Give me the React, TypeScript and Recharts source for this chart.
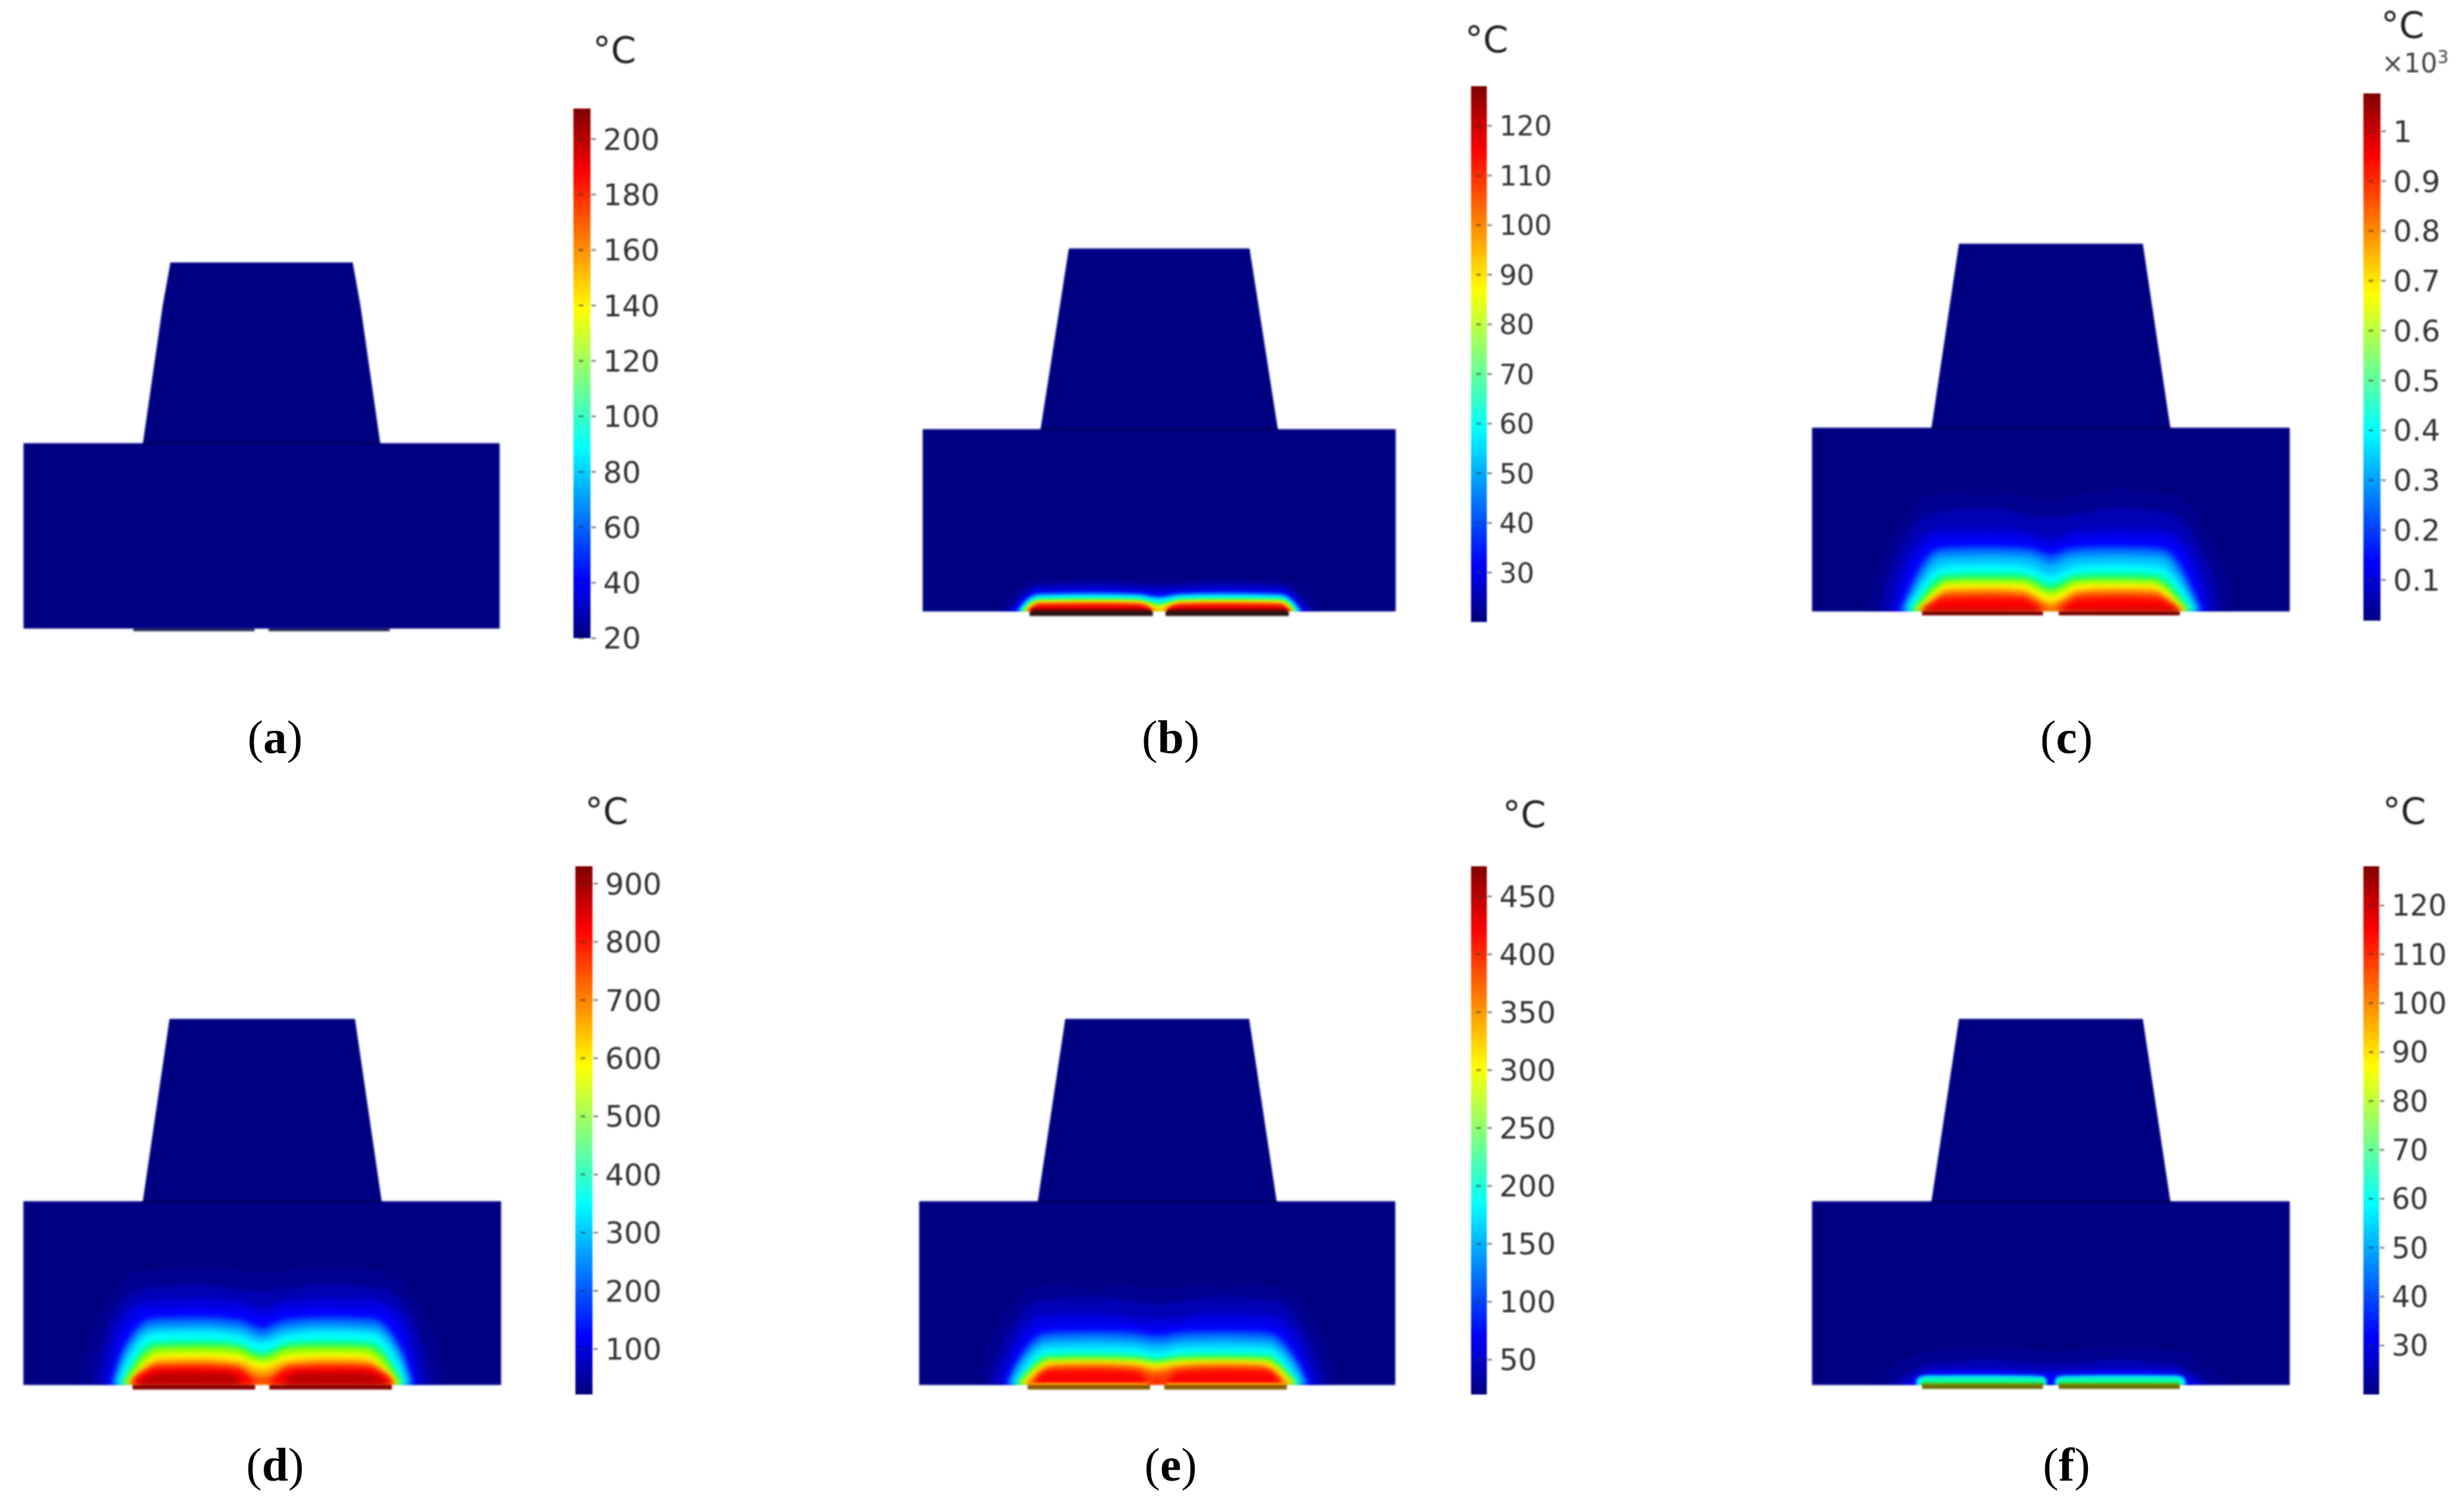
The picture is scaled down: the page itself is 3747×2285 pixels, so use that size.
import React from 'react';
import { ComposedChart, Area, Bar, XAxis, YAxis } from 'recharts';

const S = 3747 / 1568;
type Pt = [number, number];

// Temperature bands, coldest to hottest
const bandColors = ['#00008e','#0000b4','#0000e0','#0000ff','#0070ff','#00c0ff','#00ffff','#00ff90','#90ff00','#ffff00','#ffa000','#ff4000','#ff0000','#b80000'];

// Half profiles of isotherms: [offset from the centre, height above the lower edge]
const contoursA: Pt[][] = [[[0,2],[40,3],[78,2.5],[85,0]]];
const contoursB: Pt[][] = [
  [[0,20],[40,22],[80,20],[92,12],[100,4],[104,0]],
  [[0,17],[40,18.5],[78,17],[90,10],[96,3],[99,0]],
  [[0,14],[40,15.5],[78,14.5],[87,9],[92,3],[95,0]],
  [[0,11.5],[14,12.5],[40,13],[78,12.5],[86,8],[90,3],[92,0]],
  [[0,9.5],[14,11.5],[40,12],[76,11.5],[85,7.5],[89,2.5],[91,0]],
  [[0,8.7],[14,10.5],[40,11],[76,10.5],[84,7],[88,2.5],[90,0]],
  [[0,7.5],[14,9.7],[40,10],[76,9.5],[83,6.5],[87,2.5],[89,0]],
  [[0,5.5],[8,7],[14,8.2],[40,8.6],[76,8.2],[82,6],[86,2],[88,0]],
  [[0,4.5],[8,6.2],[14,7.3],[40,7.6],[76,7.3],[82,5.2],[85,2],[87,0]],
  [[0,3],[8,5.5],[14,6.7],[40,7],[76,6.7],[82,4.5],[84,2],[86,0]],
  [[0,1.5],[6,4],[14,5.8],[40,6.2],[76,5.8],[81,3.8],[85,0]],
  [[3,0],[8,3.4],[14,5],[40,5.3],[76,5],[81,3],[84,0]],
  [[4,0],[8,3],[14,4],[40,4.3],[76,4],[80,2.5],[83.5,0]],
  [[5,0],[9,1.5],[14,2.4],[78,2.4],[81,1.2],[83,0]],
];
const contoursC: Pt[][] = [
  [[0,72],[40,78],[80,74],[100,50],[112,22],[118,0]],
  [[0,60],[40,66],[75,63],[94,44],[104,20],[109,0]],
  [[0,47],[14,51],[40,53],[72,52],[88,40],[97,20],[102,0]],
  [[0,41],[14,45],[40,47],[72,46],[85,35],[93,18],[98,0]],
  [[0,36],[14,40],[40,41],[70,40],[82,30],[90,14],[96,0]],
  [[0,30],[14,35],[40,36],[70,35],[80,26],[88,12],[94,0]],
  [[0,23],[16,29],[40,30],[68,29],[78,22],[87,9],[92,0]],
  [[0,18],[16,24],[40,25],[68,24],[76,19],[85,7],[90,0]],
  [[0,14],[16,20.5],[40,21],[66,20.5],[74,16],[83,6],[88,0]],
  [[0,10],[8,13],[18,17.5],[40,18],[65,17.5],[73,13],[81,5],[87,0]],
  [[0,6],[8,9],[18,14],[40,15],[65,14.5],[73,10],[80,4],[85,0]],
  [[0,2],[6,5],[18,11],[40,12],[66,11.5],[73,8],[79,3],[84,0]],
  [[4,0],[10,4],[18,8],[40,8.5],[68,8],[75,5],[82,0]],
  [[6,0],[10,1.5],[40,2],[78,2],[82,0]],
];
const contoursD: Pt[][] = [
  [[0,72],[40,76],[80,72],[100,52],[112,25],[119,0]],
  [[0,60],[40,64],[75,62],[95,45],[103,22],[108,0]],
  [[0,49],[12,53],[40,55],[72,54],[90,42],[97,22],[101,0]],
  [[0,44],[12,47],[40,49],[72,48],[86,38],[93,20],[98,0]],
  [[0,36],[14,41],[40,43],[70,42],[83,32],[91,16],[96,0]],
  [[0,31],[14,36],[40,38],[70,37],[82,28],[90,13],[94,0]],
  [[0,27],[16,32],[40,34],[70,33],[80,25],[88,11],[92,0]],
  [[0,21],[16,27],[40,28.5],[70,27.5],[78,21],[86,8],[90,0]],
  [[0,18],[16,24],[35,25],[65,24.5],[75,20],[84,8],[88.5,0]],
  [[0,14],[8,16],[16,19.5],[40,20.5],[65,20],[73,16],[81,7],[87,0]],
  [[0,10],[14,15],[40,17],[65,16.5],[73,13],[80,6],[85,0]],
  [[0,5],[10,8],[16,12],[40,13.5],[66,13],[73,10],[80,5],[84,0]],
  [[4,0],[8,5],[16,10],[40,11.5],[68,11],[75,8],[81,4],[83,0]],
  [[12,0],[16,5],[22,7.5],[60,8],[72,6],[78,2],[80,0]],
];
const contoursE: Pt[][] = [
  [[0,62],[40,66],[80,62],[100,42],[110,20],[115,0]],
  [[0,52],[40,56],[75,54],[92,38],[102,18],[108,0]],
  [[0,42],[40,46],[72,45],[88,33],[96,16],[102,0]],
  [[0,36],[14,38],[40,39],[72,38],[85,28],[93,14],[98,0]],
  [[0,31],[14,33],[40,34],[70,33],[83,24],[91,11],[96,0]],
  [[0,26],[14,28],[40,29],[70,28],[82,20],[90,9],[94,0]],
  [[0,21],[14,23.5],[40,24],[70,23.5],[80,17],[87,7],[91.5,0]],
  [[0,17],[14,19],[40,20],[70,19.5],[78,14],[85,6],[90,0]],
  [[0,15],[14,17],[40,17.5],[70,17],[78,12],[85,5],[89,0]],
  [[0,13],[14,15],[40,15.5],[68,15],[76,11],[83,4],[87.5,0]],
  [[0,11],[14,13],[40,14],[66,13.5],[76,9],[82,3],[86,0]],
  [[0,8],[14,11],[40,12],[66,11.5],[74,7.5],[80,2],[84,0]],
  [[0,3],[5,1],[12,8],[40,9.5],[70,9],[76,5],[79,0]],
];
const contoursF: Pt[][] = [
  [[0,22],[40,25],[80,22],[100,12],[112,4],[118,0]],
  [[0,14],[40,16],[78,14],[92,7],[100,2],[104,0]],
  [[0,9],[40,10.5],[76,10],[88,5],[94,1.5],[96,0]],
  [[0,6.5],[30,8],[72,8],[85,4.5],[90,1],[92,0]],
  [[2,0],[3,4],[10,6.5],[40,6.5],[78,6.5],[84,5],[86,0]],
  [[3,0],[4,5],[40,5.8],[80,5.6],[85,4],[85.5,0]],
  [[3,0],[4,4.6],[40,5.2],[80,5],[84.5,3.5],[85,0]],
  [[3.5,0],[5,3.8],[40,4.2],[80,4],[84,0]],
];

// Section outlines: half profile of the block
const outlineA: Pt[] = [[0,233],[58,233],[63,205],[75.5,118],[75.5,118],[151.5,118]];
const outlineB: Pt[] = [[0,231],[57.5,231],[75.5,116],[150.5,116]];
const outlineC: Pt[] = [[0,234],[58.5,234],[76,117],[152,117]];
const outlineD: Pt[] = [[0,233],[59,233],[76,117],[152,117]];
const outlineE: Pt[] = [[0,233],[58.5,233],[76,117],[151.5,117]];
const outlineF: Pt[] = [[0,233],[58.5,233],[76,117],[152,117]];

// Colour bar ticks and ranges
const ticksA = [20,40,60,80,100,120,140,160,180,200];
const ticksB = [30,40,50,60,70,80,90,100,110,120];
const ticksC = [0.1,0.2,0.3,0.4,0.5,0.6,0.7,0.8,0.9,1];
const ticksD = [100,200,300,400,500,600,700,800,900];
const ticksE = [50,100,150,200,250,300,350,400,450];
const ticksF = [30,40,50,60,70,80,90,100,110,120];
const rangeA: Pt = [20, 211];
const rangeB: Pt = [20, 128];
const rangeC: Pt = [0.018, 1.076];
const rangeD: Pt = [22, 930];
const rangeE: Pt = [20, 476];
const rangeF: Pt = [20, 128];

// Hot film under each gap-separated electrode
const stripB: Pt[] = [[5,1.2],[81,1.2]];
const stripE: Pt[] = [[6,1.6],[81,1.6]];
const stripF: Pt[] = [[4.5,1.3],[82,1.3]];

const panels = [
  { id:'a', cx:166.5, bottom:400, contours:contoursA, outline:outlineA, ticks:ticksA, range:rangeA, strip:null, stripColor:'', elecColor:'#1c1c48', elecDepth:1.6, elec:[4.5,81.5], blur:2, barL:365, barR:376, barT:69, barB:406, font:45, unit:[391,32], label:[175,469] },
  { id:'b', cx:737.5, bottom:389, contours:contoursB, outline:outlineB, ticks:ticksB, range:rangeB, strip:stripB, stripColor:'#5a0000', elecColor:'#2c1414', elecDepth:2.8, elec:[4,82.5], blur:2, barL:936, barR:946, barT:55, barB:396, font:42, unit:[946,25], label:[745,469] },
  { id:'c', cx:1305, bottom:389, contours:contoursC, outline:outlineC, ticks:ticksC, range:rangeC, strip:null, stripColor:'', elecColor:'#7c0000', elecDepth:2.4, elec:[5,82], blur:4, barL:1504, barR:1515, barT:59.5, barB:395, font:45, unit:[1529,16], label:[1315,469] },
  { id:'d', cx:167, bottom:881, contours:contoursD, outline:outlineD, ticks:ticksD, range:rangeD, strip:null, stripColor:'', elecColor:'#880000', elecDepth:2.8, elec:[4.5,82.5], blur:4, barL:366, barR:377, barT:551, barB:887, font:45, unit:[386,516], label:[175,932] },
  { id:'e', cx:736.5, bottom:881, contours:contoursE, outline:outlineE, ticks:ticksE, range:rangeE, strip:stripE, stripColor:'#ff9000', elecColor:'#8a5a00', elecDepth:2.8, elec:[4.5,82.5], blur:4, barL:936, barR:946, barT:551, barB:887, font:45, unit:[970,518], label:[745,932] },
  { id:'f', cx:1305, bottom:881, contours:contoursF, outline:outlineF, ticks:ticksF, range:rangeF, strip:stripF, stripColor:'#70a000', elecColor:'#6a6a00', elecDepth:2.4, elec:[5,82], blur:2, barL:1504, barR:1514, barT:551, barB:887, font:44, unit:[1530,516], label:[1315,932] },
];

const mirror = (half: Pt[]) => {
  const right = half.map(([x, h]) => ({ x, h }));
  const left = half.filter(([x]) => x !== 0).map(([x, h]) => ({ x: -x, h })).reverse();
  return [...left, ...right];
};
const segment = (x0: number, x1: number, lo: number, hi: number) => [
  { x: x0, r: [lo, hi] }, { x: x1, r: [lo, hi] },
];

const HALF = 156, TOPH = 238, BELOW = 8;

function Section({ p }: { p: (typeof panels)[number] }) {
  const w = HALF * 2 * S, h = (TOPH + BELOW) * S;
  const inter = p.outline[p.outline.length - 1][1];
  const innerX = p.outline[p.outline.length - 2][0];
  const flat = { isAnimationActive: false, dot: false, activeDot: false, stroke: 'none', fillOpacity: 1, legendType: 'none' as const, tooltipType: 'none' as const };
  return (
    <div style={{ position: 'absolute', left: (p.cx - HALF) * S, top: (p.bottom - TOPH) * S, width: w, height: h, filter: 'blur(1.6px)' }}>
      <ComposedChart width={w} height={h} margin={{ top: 0, right: 0, bottom: 0, left: 0 }}>
        <XAxis type="number" dataKey="x" domain={[-HALF, HALF]} hide allowDataOverflow />
        <YAxis type="number" domain={[-BELOW, TOPH]} hide allowDataOverflow width={0} />
        <Area {...flat} type="linear" data={mirror(p.outline)} dataKey="h" fill="#000082" />
        {p.contours.map((c, i) => (
          <Area key={i} {...flat} className={`heat${p.blur}`} type="monotone" data={mirror(c)} dataKey="h" fill={bandColors[i]} />
        ))}
        <Area {...flat} type="linear" data={segment(-HALF, HALF, -BELOW, 0)} dataKey="r" fill="#ffffff" />
        {p.strip && <Area {...flat} type="linear" data={p.strip.map(([x, v]) => ({ x, h: v }))} dataKey="h" fill={p.stripColor} />}
        {p.strip && <Area {...flat} type="linear" data={p.strip.map(([x, v]) => ({ x: -x, h: v })).reverse()} dataKey="h" fill={p.stripColor} />}
        <Area {...flat} type="linear" data={segment(-innerX, innerX, inter - 0.7, inter + 0.5)} dataKey="r" fill="#00005a" />
        <Area {...flat} type="linear" data={segment(-p.elec[1], -p.elec[0], -p.elecDepth, 0)} dataKey="r" fill={p.elecColor} />
        <Area {...flat} type="linear" data={segment(p.elec[0], p.elec[1], -p.elecDepth, 0)} dataKey="r" fill={p.elecColor} />
      </ComposedChart>
    </div>
  );
}

const jetStops: [number, string][] = [[0,'#00007f'],[0.11,'#0000ff'],[0.36,'#00ffff'],[0.62,'#ffff00'],[0.88,'#ff0000'],[1,'#7f0000']];

function ColorBar({ p }: { p: (typeof panels)[number] }) {
  const barW = (p.barR - p.barL) * S;
  const axisW = 150, pad = 40;
  const barH = (p.barB - p.barT) * S;
  const Tick = (t: any) => (
    <g>
      <line x1={t.x - barW} x2={t.x - barW + 7} y1={t.y} y2={t.y} stroke="#333" strokeOpacity={0.55} strokeWidth={3} />
      <line x1={t.x - 7} x2={t.x} y1={t.y} y2={t.y} stroke="#333" strokeOpacity={0.55} strokeWidth={3} />
      <text x={t.x + 11} y={t.y} dy="0.36em" textAnchor="start" fontFamily="DejaVu Sans" fontSize={p.font} fill="#333">{String(t.payload.value)}</text>
    </g>
  );
  return (
    <div style={{ position: 'absolute', left: p.barL * S, top: p.barT * S - pad, filter: 'blur(1.3px)' }}>
      <ComposedChart width={barW + axisW} height={barH + 2 * pad} data={[{ name: 'T', range: p.range }]} margin={{ top: pad, right: 0, bottom: pad, left: 0 }} barCategoryGap={0}>
        <defs>
          <linearGradient id={`jet-${p.id}`} x1="0" y1="1" x2="0" y2="0">
            {jetStops.map(([o, c]) => <stop key={o} offset={o} stopColor={c} />)}
          </linearGradient>
        </defs>
        <XAxis type="category" dataKey="name" hide />
        <YAxis type="number" orientation="right" width={axisW} domain={p.range} ticks={p.ticks} interval={0} allowDataOverflow axisLine={false} tickLine={false} tick={Tick} />
        <Bar dataKey="range" fill={`url(#jet-${p.id})`} isAnimationActive={false} />
      </ComposedChart>
    </div>
  );
}

const placed = (x: number, y: number): React.CSSProperties => ({
  position: 'absolute', left: x * S, top: y * S, transform: 'translate(-50%,-50%)', whiteSpace: 'nowrap', lineHeight: 1,
});

export default function App() {
  return (
    <div style={{ position: 'absolute', left: 0, top: 0, width: 3747, height: 2285, background: '#fff', overflow: 'hidden' }}>
      <style>{`.heat2 .recharts-area-area{filter:blur(2px)} .heat4 .recharts-area-area{filter:blur(4.5px)}`}</style>
      {panels.map(p => (
        <React.Fragment key={p.id}>
          <Section p={p} />
          <ColorBar p={p} />
          <div style={{ ...placed(p.unit[0], p.unit[1]), fontFamily: 'DejaVu Sans', fontSize: 55, color: '#222', filter: 'blur(0.8px)' }}>°C</div>
          <div style={{ ...placed(p.label[0], p.label[1]), fontFamily: 'Liberation Serif', fontSize: 72, color: '#000', filter: 'blur(0.6px)' }}>(<b>{p.id}</b>)</div>
        </React.Fragment>
      ))}
      <div style={{ ...placed(1537, 40), fontFamily: 'DejaVu Sans', fontSize: 40, color: '#444', filter: 'blur(1px)' }}>×10<sup style={{ fontSize: 27, lineHeight: 0 }}>3</sup></div>
    </div>
  );
}
